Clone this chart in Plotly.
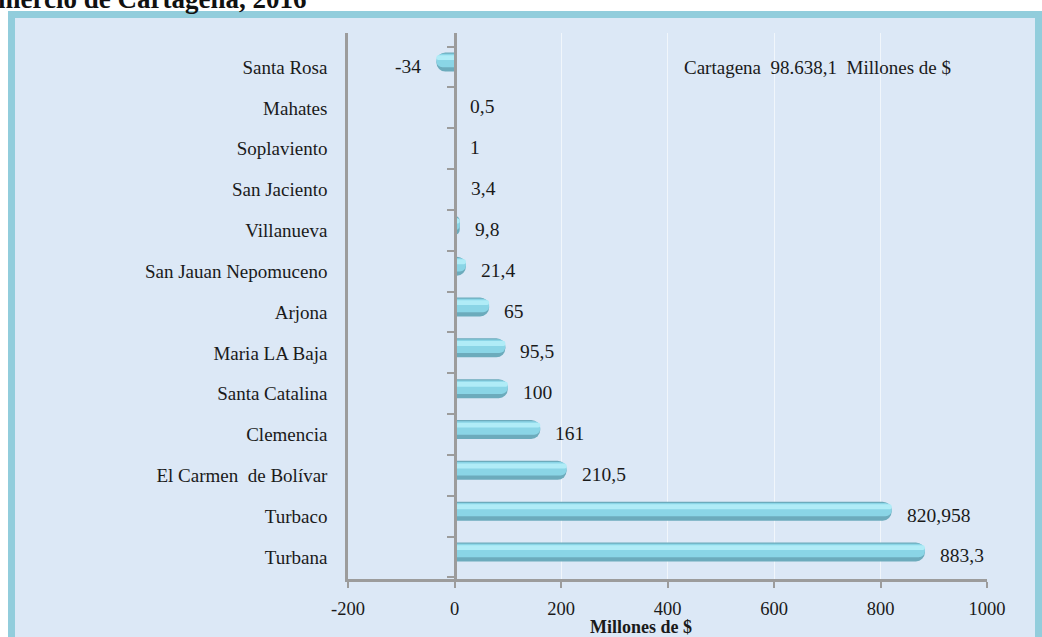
import plotly.graph_objects as go

# ---- data (bottom -> top) ----
municipios = ["Turbana", "Turbaco", "El Carmen  de Bolívar", "Clemencia", "Santa Catalina",
              "Maria LA Baja", "Arjona", "San Jauan Nepomuceno", "Villanueva",
              "San Jaciento", "Soplaviento", "Mahates", "Santa Rosa"]
valores = [883.3, 820.958, 210.5, 161, 100, 95.5, 65, 21.4, 9.8, 3.4, 1, 0.5, -34]
x_ticks = [-200, 0, 200, 400, 600, 800, 1000]
titulo = "Comercio de Cartagena, 2016"
nota = "Cartagena  98.638,1  Millones de $"
x_titulo = "Millones de $"

W, H = 1042, 637
L, R, T, B = 348, 987, 33, 579
FONT = "Liberation Serif"
TXT = "#1a1a1a"
AX = "#9c9c9c"


def px2x(px):
    return (px - L) / (R - L)


def py2y(py):
    return (B - py) / (B - T)


n = len(municipios)
idx = list(range(n))
y_range = [-0.539, n - 1 + 0.834]

fig = go.Figure()

# cylinder-like bars: stacked layers of the same values
layers = [
    (0.465, -0.11, "#6cabbc", 9, "y"),
    (0.33, -0.005, "#8ad5e6", 6, "y"),
    (0.12, 0.17, "#b0ecf7", 3, "y2"),
]
for w, off, col, cr, ax in layers:
    fig.add_trace(go.Bar(
        x=valores, y=idx, orientation="h", width=w, offset=off,
        marker=dict(color=col, line=dict(width=0), cornerradius=cr),
        hoverinfo="skip", showlegend=False, yaxis=ax))

# value labels
annotations = []
for i, v in enumerate(valores):
    lab = f"{v:g}".replace(".", ",")
    annotations.append(dict(
        x=v, y=i, xref="x", yref="y", text=lab, showarrow=False,
        xanchor="left" if v >= 0 else "right",
        xshift=13 if v >= 0 else -13, yshift=1,
        font=dict(family=FONT, size=19.5, color=TXT)))

annotations.append(dict(x=px2x(682), y=py2y(67), xref="paper", yref="paper",
                        text=nota, showarrow=False, xanchor="left", yanchor="middle",
                        font=dict(family=FONT, size=19, color=TXT)))
annotations.append(dict(x=px2x(641), y=py2y(627), xref="paper", yref="paper",
                        text="<b>" + x_titulo + "</b>", showarrow=False,
                        xanchor="center", yanchor="middle",
                        font=dict(family=FONT, size=18, color=TXT)))
annotations.append(dict(x=px2x(308), y=py2y(-1), xref="paper", yref="paper",
                        text="<b>" + titulo + "</b>", showarrow=False,
                        xanchor="right", yanchor="middle",
                        font=dict(family=FONT, size=27, color="#111111")))

shapes = [dict(type="rect", xref="paper", yref="paper", layer="below",
               x0=px2x(11.5), x1=px2x(1038.5), y0=py2y(14.5), y1=py2y(660),
               line=dict(color="#92cddc", width=7), fillcolor="#dce8f6")]

fig.update_layout(
    width=W, height=H,
    margin=dict(l=L, r=W - R, t=T, b=H - B, pad=0),
    paper_bgcolor="white", plot_bgcolor="rgba(0,0,0,0)",
    barmode="overlay", showlegend=False,
    font=dict(family=FONT, size=19, color=TXT),
    xaxis=dict(range=[-200, 1000], tickvals=x_ticks, ticktext=[str(t) for t in x_ticks],
               showgrid=True, gridcolor="rgba(255,255,255,0.6)", gridwidth=1,
               zeroline=False, showline=True, linecolor=AX, linewidth=2.5,
               ticks="outside", ticklen=6, tickwidth=2, tickcolor=AX,
               ticklabelstandoff=5,
               tickfont=dict(family=FONT, size=18.5, color=TXT)),
    yaxis=dict(range=y_range, tickmode="array", tickvals=idx, ticktext=municipios,
               showgrid=False, zeroline=False, showline=True, linecolor=AX, linewidth=2.5,
               ticks="", ticklabelstandoff=14,
               tickfont=dict(family=FONT, size=19, color=TXT)),
    yaxis2=dict(range=y_range, overlaying="y", anchor="free", position=200 / 1200,
                side="left", tickmode="array", tickvals=[i + 0.5 for i in range(-1, n)],
                showticklabels=False, showgrid=False, zeroline=False,
                showline=True, linecolor=AX, linewidth=2.5,
                ticks="outside", ticklen=7, tickwidth=2, tickcolor=AX),
    annotations=annotations, shapes=shapes,
)

fig.write_html("out.html", config={"displayModeBar": False},
               post_script="document.body.style.margin='0';")
